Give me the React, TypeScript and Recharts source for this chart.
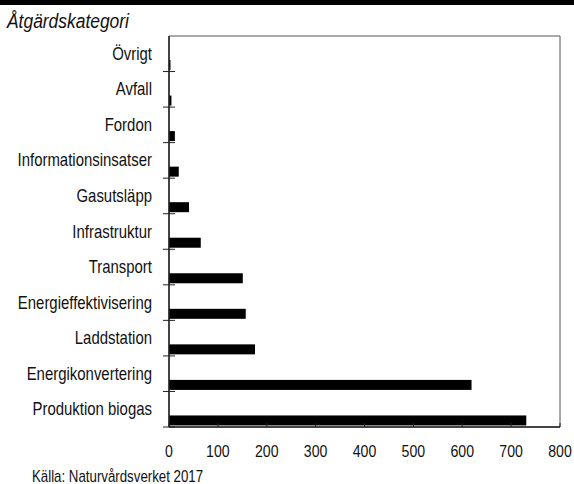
import React from 'react';
import { BarChart, Bar, XAxis, YAxis, ReferenceArea } from 'recharts';

const categories = [
  'Övrigt',
  'Avfall',
  'Fordon',
  'Informationsinsatser',
  'Gasutsläpp',
  'Infrastruktur',
  'Transport',
  'Energieffektivisering',
  'Laddstation',
  'Energikonvertering',
  'Produktion biogas',
];
const values = [3, 5, 12, 20, 41, 65, 151, 157, 176, 619, 731];
const xTicks = [0, 100, 200, 300, 400, 500, 600, 700, 800];

const data = categories.map((name, i) => ({ name, value: values[i] }));

// no narrow font installed, so squeeze Liberation Sans horizontally
const FONT = "'Liberation Sans', Arial, sans-serif";
const NARROW = 0.83;
const PLOT_TOP = 36;
const PLOT_BOTTOM = 427;
const BAND = (PLOT_BOTTOM - PLOT_TOP) / categories.length;

function NarrowText({ x, y, anchor, size, children, italic }: any) {
  return (
    <text
      transform={`translate(${x},${y}) scale(${NARROW},1)`}
      textAnchor={anchor}
      fontFamily={FONT}
      fontSize={size}
      fontStyle={italic ? 'italic' : 'normal'}
      fill="#111"
    >
      {children}
    </text>
  );
}

function YTick(props: any) {
  const { x, y, payload } = props;
  const lineY = y + BAND / 2;
  return (
    <g>
      <NarrowText x={x - 17} y={y + 6} anchor="end" size={18}>
        {payload.value}
      </NarrowText>
      <line x1={x - 6} x2={x + 6} y1={lineY} y2={lineY} stroke="#222" strokeWidth={1} />
    </g>
  );
}

function XTick(props: any) {
  const { x, y, payload } = props;
  return (
    <g>
      <line x1={x} x2={x} y1={y} y2={y - 4} stroke="#222" strokeWidth={1} />
      <NarrowText x={x} y={y + 30} anchor="middle" size={17}>
        {payload.value}
      </NarrowText>
    </g>
  );
}

function OffsetBar(props: any) {
  const { x, y, width, height } = props;
  if (!width || width <= 0) return null;
  return <rect x={x} y={y + 11} width={width} height={height} fill="#000" />;
}

export default function App() {
  return (
    <div style={{ position: 'absolute', left: 0, top: 0, width: 574, height: 484, background: '#fff', overflow: 'hidden' }}>
      <div style={{ position: 'absolute', left: 0, top: 0, width: 574, height: 5, background: '#000' }} />
      <svg width={574} height={484} style={{ position: 'absolute', left: 0, top: 0 }}>
        <NarrowText x={7} y={28} anchor="start" size={21}>
          <tspan fontStyle="italic">Åtgärdskategori</tspan>
        </NarrowText>
        <NarrowText x={32} y={482} anchor="start" size={16}>
          Källa: Naturvårdsverket 2017
        </NarrowText>
      </svg>
      <div style={{ position: 'absolute', left: 0, top: 0 }}>
        <BarChart
          width={574}
          height={484}
          data={data}
          layout="vertical"
          margin={{ top: PLOT_TOP, right: 14, bottom: 27, left: 9 }}
          barSize={10}
        >
          <ReferenceArea x1={0} x2={800} fill="none" stroke="#555" strokeWidth={1} ifOverflow="visible" />
          <XAxis
            type="number"
            domain={[0, 800]}
            ticks={xTicks}
            height={30}
            tickSize={0}
            tickMargin={0}
            tickLine={false}
            axisLine={{ stroke: '#222', strokeWidth: 1.5 }}
            tick={<XTick />}
            interval={0}
          />
          <YAxis
            type="category"
            dataKey="name"
            width={160}
            tickSize={0}
            tickMargin={0}
            tickLine={false}
            axisLine={{ stroke: '#222', strokeWidth: 1.5 }}
            tick={<YTick />}
            interval={0}
          />
          <Bar dataKey="value" fill="#000" shape={<OffsetBar />} isAnimationActive={false} />
        </BarChart>
      </div>
    </div>
  );
}
